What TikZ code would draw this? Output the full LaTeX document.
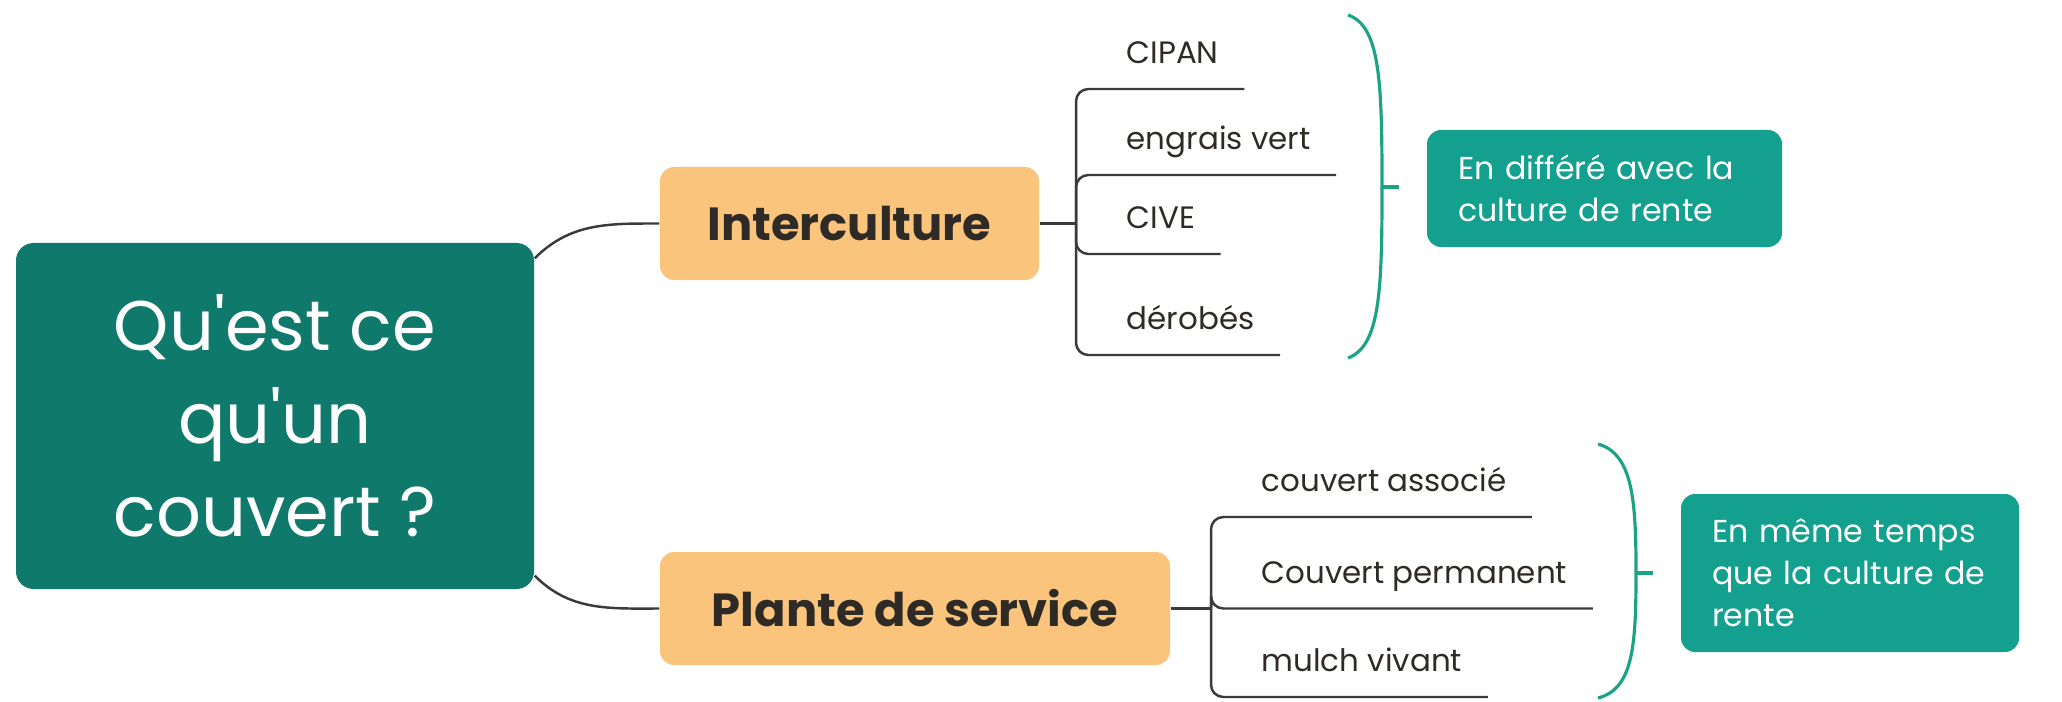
\documentclass[tikz,border=0pt]{standalone}
\usepackage{fontspec}
\setmainfont{Poppins}
\newfontfamily\rootfont{Poppins}[Ligatures=TeXOff]
\usetikzlibrary{positioning,calc}
\definecolor{rootteal}{HTML}{0F7A6C}
\definecolor{noteteal}{HTML}{14A08F}
\definecolor{branchorange}{HTML}{FBC47C}
\definecolor{bracegreen}{HTML}{1BA386}
\definecolor{linegray}{HTML}{3A3A3A}
\definecolor{textdark}{HTML}{2E2A26}

\begin{document}
\begin{tikzpicture}[
  rootbox/.style={fill=rootteal, rounded corners=5pt, minimum width=5.18cm, minimum height=3.46cm,
    text=white, align=center, font=\rootfont\fontsize{20}{26.5}\selectfont},
  branchbox/.style={fill=branchorange, rounded corners=4pt, minimum height=1.13cm,
    text=textdark, font=\fontsize{13.2}{15}\selectfont\bfseries},
  leaf/.style={anchor=south west, inner xsep=0.25cm, inner ysep=0.16cm, text=textdark,
    text height=1.6ex, text depth=0.25em, font=\fontsize{8.8}{11}\selectfont},
  notebox/.style={fill=noteteal, rounded corners=4pt, text=white, align=left,
    inner xsep=0.31cm, font=\fontsize{9}{12}\selectfont},
  link/.style={linegray, line width=0.7pt},
  leaflink/.style={linegray, line width=0.7pt, rounded corners=3.5pt},
  brace/.style={bracegreen, line width=0.9pt}
]
  \useasboundingbox (0,0) rectangle (20.62,7.01);

  % Central question
  \node[rootbox] (root) at (2.75,2.85) {Qu'est ce\\qu'un\\couvert ?};

  % Main branches
  \node[branchbox, minimum width=3.79cm] (inter) at (8.495,4.775) {Interculture};
  \node[branchbox, minimum width=5.10cm] (plante) at (9.15,0.925) {Plante de service};
  \draw[link] ($(root.north east)+(0,-0.16)$) to[out=45,in=180] (inter.west);
  \draw[link] ($(root.south east)+(0,0.14)$) to[out=-45,in=180] (plante.west);

  % Interculture leaves
  \coordinate (j1) at (10.76,4.775);
  \draw[link] (inter.east) -- (j1);
  \node[leaf] (cipan) at (11.01,6.12) {CIPAN};
  \node[leaf] (engrais) at (11.01,5.26) {engrais vert};
  \node[leaf] (cive) at (11.01,4.47) {CIVE};
  \node[leaf] (derobes) at (11.01,3.46) {dérobés};
  \foreach \leafname in {cipan,engrais,cive,derobes}
    \draw[leaflink] (j1) |- (\leafname.south west) -- (\leafname.south east);

  % Plante de service leaves
  \coordinate (j2) at (12.11,0.925);
  \draw[link] (plante.east) -- (j2);
  \node[leaf] (associe) at (12.36,1.84) {couvert associé};
  \node[leaf] (permanent) at (12.36,0.925) {Couvert permanent};
  \node[leaf] (mulch) at (12.36,0.04) {mulch vivant};
  \foreach \leafname in {associe,permanent,mulch}
    \draw[leaflink] (j2) |- (\leafname.south west) -- (\leafname.south east);

  % Brace and note for interculture
  \coordinate (b1top) at (13.48,6.86);
  \coordinate (b1mid) at (13.82,5.14);
  \coordinate (b1bot) at (13.48,3.43);
  \coordinate (b1tip) at (13.99,5.14);
  \draw[brace] (b1top) .. controls (13.80,6.75) and (13.82,6.2) .. (b1mid)
    .. controls (13.82,4.1) and (13.80,3.55) .. (b1bot);
  \draw[brace] (b1mid) -- (b1tip);
  \node[notebox, text width=2.93cm, minimum height=1.17cm] (note1) at (16.045,5.125)
    {En différé avec la\\culture de rente};

  % Brace and note for plante de service
  \coordinate (b2top) at (15.98,2.57);
  \coordinate (b2mid) at (16.36,1.28);
  \coordinate (b2bot) at (15.98,0.03);
  \coordinate (b2tip) at (16.53,1.28);
  \draw[brace] (b2top) .. controls (16.33,2.47) and (16.36,2.0) .. (b2mid)
    .. controls (16.36,0.55) and (16.33,0.12) .. (b2bot);
  \draw[brace] (b2mid) -- (b2tip);
  \node[notebox, text width=2.76cm, minimum height=1.58cm] (note2) at (18.50,1.28)
    {En même temps\\que la culture de\\rente};
\end{tikzpicture}
\end{document}
